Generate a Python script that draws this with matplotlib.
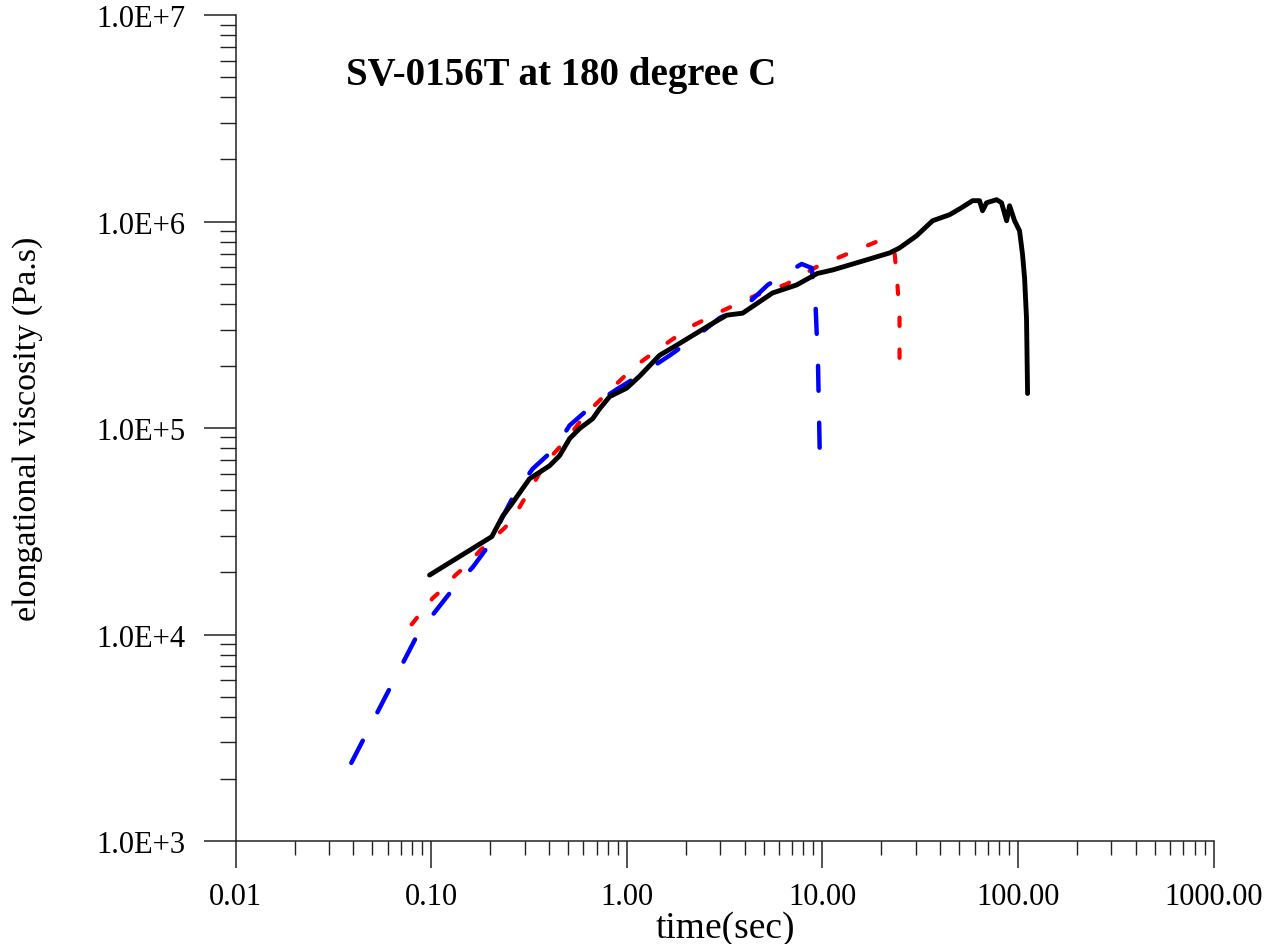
import matplotlib
matplotlib.use("Agg")
import matplotlib.pyplot as plt
from matplotlib.ticker import FixedLocator, LogLocator, NullFormatter

plt.rcParams['font.family'] = ['Liberation Serif', 'DejaVu Serif']
plt.rcParams['lines.scale_dashes'] = False

# black: measured run (solid)
black_t = [0.098, 0.204, 0.232, 0.258, 0.318, 0.403, 0.453, 0.51, 0.574, 0.669,
           0.726, 0.817, 0.998, 1.16, 1.47, 1.8, 2.65, 3.24, 3.91, 5.56, 7.38,
           9.4, 11.3, 16.8, 22.1, 24.8, 30.3, 36.6, 44.7, 51.5, 58.6, 63.6,
           65.9, 69.1, 77.8, 82.4, 87.5, 90.6, 96.1, 101.9, 105.6, 108.1,
           110.6, 112.0]
black_eta = [19400, 29800, 37500, 42900, 56800, 65700, 73500, 88900, 99500, 111000,
             124000, 142000, 156000, 178000, 225000, 252000, 315000, 352000, 360000,
             451000, 493000, 560000, 583000, 652000, 705000, 745000, 853000, 1009000,
             1079000, 1167000, 1262000, 1262000, 1128000, 1233000, 1276000, 1233000,
             1009000, 1193000, 1009000, 902000, 689000, 533000, 340000, 147000]

# blue: long dashes
blue_t = [0.039, 0.0852, 0.104, 0.129, 0.163, 0.199, 0.229, 0.267, 0.330, 0.428,
          0.510, 0.669, 0.898, 1.16, 1.66, 2.27, 2.98, 4.09, 5.25, 6.96, 7.83,
          8.81, 9.2, 9.5, 9.7]
blue_eta = [2390, 10020, 12800, 16600, 21200, 27400, 36300, 48000, 63500, 79500,
            103000, 129000, 155000, 180000, 225000, 278000, 341000, 394000, 493000,
            583000, 623000, 596000, 420000, 200000, 73500]

# red: short dashes
red_t = [0.0794, 0.1017, 0.113, 0.133, 0.148, 0.177, 0.192, 0.237, 0.261, 0.293,
         0.318, 0.380, 0.481, 0.623, 0.743, 0.817, 1.10, 1.52, 2.14, 3.05, 4.50,
         6.56, 9.33, 13.4, 18.9, 21.5, 23.4, 24.2, 24.8, 24.8]
red_eta = [11200, 15000, 16400, 19400, 21200, 25400, 27400, 32800, 36300, 43900,
           49400, 67200, 86000, 118000, 139000, 152000, 199000, 249000, 311000,
           368000, 436000, 498000, 603000, 697000, 798000, 763000, 705000, 493000,
           352000, 174000]

x_ticks = [0.01, 0.1, 1, 10, 100, 1000]
x_labels = ["0.01", "0.10", "1.00", "10.00", "100.00", "1000.00"]
y_ticks = [1e3, 1e4, 1e5, 1e6, 1e7]
y_labels = ["1.0E+3", "1.0E+4", "1.0E+5", "1.0E+6", "1.0E+7"]

fig = plt.figure(figsize=(12.79, 9.45), dpi=100)
ax = fig.add_axes([0.1843, 0.109, 0.9488 - 0.1843, 0.983 - 0.109])

ax.plot(red_t, red_eta, color="#ff0000", lw=3.0, dashes=(6, 17),
        dash_capstyle="round", solid_capstyle="round")
ax.plot(blue_t, blue_eta, color="#0000ff", lw=3.2, dashes=(18, 23),
        dash_capstyle="round")
ax.plot(black_t, black_eta, color="black", lw=3.5, solid_joinstyle="round",
        solid_capstyle="round")

ax.set_xscale("log")
ax.set_yscale("log")
ax.set_xlim(0.01, 1000)
ax.set_ylim(1e3, 1e7)

ax.xaxis.set_major_locator(FixedLocator(x_ticks))
ax.set_xticklabels(x_labels)
ax.yaxis.set_major_locator(FixedLocator(y_ticks))
ax.set_yticklabels(y_labels)
ax.xaxis.set_minor_locator(LogLocator(base=10, subs=range(2, 10), numticks=20))
ax.yaxis.set_minor_locator(LogLocator(base=10, subs=range(2, 10), numticks=20))
ax.xaxis.set_minor_formatter(NullFormatter())
ax.yaxis.set_minor_formatter(NullFormatter())

for s in ("top", "right"):
    ax.spines[s].set_visible(False)
for s in ("left", "bottom"):
    ax.spines[s].set_linewidth(1.1)
    ax.spines[s].set_color("#222222")

ax.tick_params(axis="x", which="major", direction="out", length=19.5, width=1.1,
               pad=10, labelsize=22, color="#222222")
ax.tick_params(axis="x", which="minor", direction="out", length=10, width=1.0,
               color="#222222")
ax.tick_params(axis="y", which="major", direction="out", length=23, width=1.1,
               pad=13, labelsize=22, color="#222222")
ax.tick_params(axis="y", which="minor", direction="out", length=11.5, width=1.0,
               color="#222222")

fig.text(561 / 1279, 1 - 76 / 945, "SV-0156T at 180 degree C", fontsize=28,
         fontweight="bold", ha="center", va="center")
fig.text(725 / 1279, 1 - 929 / 945, "time(sec)", fontsize=27, ha="center", va="center")
fig.text(28 / 1279, 1 - 429 / 945, "elongational viscosity (Pa.s)", fontsize=24.5,
         rotation=90, ha="center", va="center")

fig.savefig("out.png", dpi=100)
